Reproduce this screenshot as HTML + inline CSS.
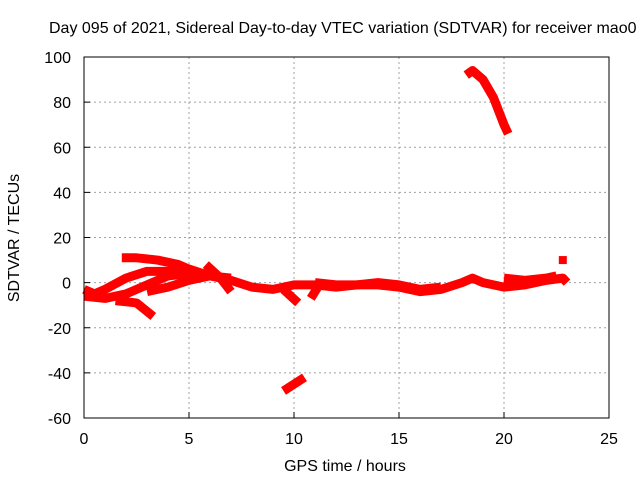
<!DOCTYPE html>
<html><head><meta charset="utf-8"><style>body{margin:0;background:#fff;overflow:hidden}svg{display:block;font-family:"Liberation Sans",sans-serif}</style></head>
<body>
<svg id="chart" width="640" height="480" xmlns="http://www.w3.org/2000/svg">
<rect width="640" height="480" fill="#fff"/>
<text x="49" y="33" font-size="16" fill="#000">Day 095 of 2021, Sidereal Day-to-day VTEC variation (SDTVAR) for receiver mao0</text>
<g id="grid"></g><g id="ticks"></g><g id="series"></g>
<rect x="84" y="57" width="525" height="361" fill="none" stroke="#000" stroke-width="1"/>
<text x="345" y="471" font-size="16" text-anchor="middle">GPS time / hours</text>
<text transform="translate(19,238) rotate(-90)" font-size="16" text-anchor="middle">SDTVAR / TECUs</text>
</svg>
<script>
const xTicks=[0,5,10,15,20,25];
const yTicks=[-60,-40,-20,0,20,40,60,80,100];
const track1=[[1.8,11],[2.5,11],[3.5,10],[4.5,8],[5,6],[6,3],[7,2]];
const track2=[[0,-3],[0.5,-5],[1,-3],[2,2],[3,5],[4,5],[5,4],[6,3]];
const track3=[[0,-6],[1,-7],[2,-5],[3,-1],[4,3],[5,4]];
const track4=[[1.5,-8],[2.5,-9],[3.3,-15]];
const track5=[[3,-4],[4,-2],[5,1],[6,3],[7,1],[8,-2],[9,-3],[10,-1],[11,-1],[12,-2],[13,-1],[14,-1],[15,-2],[16,-4],[17,-3],[18,0],[18.5,2],[19,0],[20,-2],[21,-1],[22,1],[22.8,2],[23,0]];
const track6=[[5.8,8],[6.5,2],[7,-4]];
const track7=[[9.5,-3],[10.2,-9]];
const track8=[[11.2,-1],[10.8,-7]];
const track9=[[9.5,-48],[10.5,-42]];
const track10=[[18.2,92],[18.5,94],[19,90],[19.5,82],[20,70],[20.2,66]];
const track11=[[22.8,10]];
const track12=[[11,0],[12,-1],[13,-1],[14,0],[15,-1],[16,-3],[17,-2]];
const track13=[[20,2],[21,1],[22,2],[22.5,3]];
const tracks=[track1,track2,track3,track4,track5,track6,track7,track8,track9,track10,track11,track12,track13];
const X=v=>84+v*21, Y=v=>418-(v+60)*(361/160);
const NS="http://www.w3.org/2000/svg";
function mk(t,a,p){const e=document.createElementNS(NS,t);for(const k in a)e.setAttribute(k,a[k]);p.appendChild(e);return e;}
const grid=document.getElementById('grid'),ticks=document.getElementById('ticks'),ser=document.getElementById('series');
xTicks.forEach(v=>{
 if(v>0&&v<25){const l=mk('line',{x1:X(v),x2:X(v),y1:57,y2:418,stroke:'#a0a0a0','stroke-dasharray':'2,3'},grid);
 
 }
 mk('line',{x1:X(v),x2:X(v),y1:418,y2:412,stroke:'#000'},ticks);
 const t=mk('text',{x:X(v),y:444,'font-size':'16','text-anchor':'middle'},ticks);t.textContent=v;
 
 
});
yTicks.forEach(v=>{
 if(v>-60&&v<100){const l=mk('line',{x1:84,x2:609,y1:Y(v),y2:Y(v),stroke:'#a0a0a0','stroke-dasharray':'2,3'},grid);
 
 }
 mk('line',{x1:84,x2:90,y1:Y(v),y2:Y(v),stroke:'#000'},ticks);
 const t=mk('text',{x:71,y:Y(v)+6,'font-size':'16','text-anchor':'end'},ticks);t.textContent=v;
 
 
});
tracks.forEach(tr=>{
 let e;
 if(tr.length===1){e=mk('rect',{x:X(tr[0][0])-4,y:Y(tr[0][1])-4,width:8,height:8,fill:'#f00'},ser);}
 else{e=mk('polyline',{points:tr.map(p=>X(p[0])+','+Y(p[1])).join(' '),fill:'none',stroke:'#f00','stroke-width':'9','stroke-linejoin':'round'},ser);}
 
 
});
</script>
</body></html>
